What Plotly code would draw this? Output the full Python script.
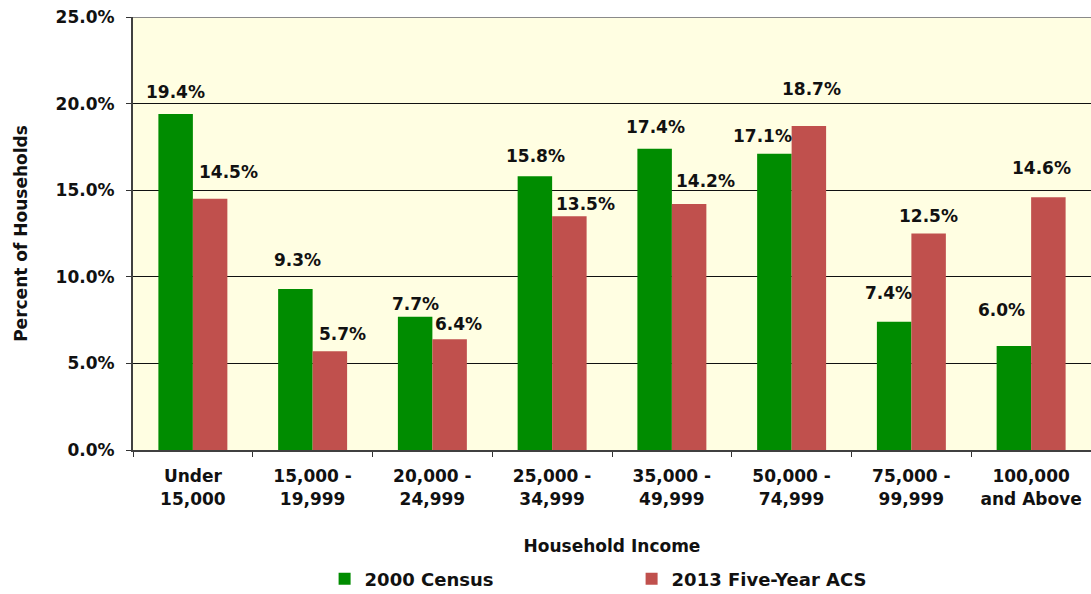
import plotly.graph_objects as go

categories = ["Under<br>15,000", "15,000 -<br>19,999", "20,000 -<br>24,999", "25,000 -<br>34,999",
              "35,000 -<br>49,999", "50,000 -<br>74,999", "75,000 -<br>99,999", "100,000<br>and Above"]
census_2000 = [19.4, 9.3, 7.7, 15.8, 17.4, 17.1, 7.4, 6.0]
acs_2013 = [14.5, 5.7, 6.4, 13.5, 14.2, 18.7, 12.5, 14.6]
series_names = ["2000 Census", "2013 Five-Year ACS"]
y_ticks = [0, 5, 10, 15, 20, 25]

# label placement tweaks (pixel shifts relative to each bar's top centre)
census_label_shift = [(0, 22), (2, 29), (0, 13), (1, 20), (1, 22), (-12, 18), (-6, 29), (-12, 36)]
acs_label_shift = [(18, 27), (13, 17), (9, 15), (16, 12), (16, 23), (3, 37), (0, 18), (-7, 29)]

GREEN = "#008C00"
RED = "#C0504D"
FONT = "DejaVu Sans"
TEXT = "#111111"

fig = go.Figure()
fig.add_trace(go.Bar(name=series_names[0], x=categories, y=census_2000, marker_color=GREEN,
                     marker_line_width=0))
fig.add_trace(go.Bar(name=series_names[1], x=categories, y=acs_2013, marker_color=RED,
                     marker_line_width=0))

half_bar = 17.25
annotations = []
for vals, shifts, side in ((census_2000, census_label_shift, -1), (acs_2013, acs_label_shift, 1)):
    for cat, v, (dx, dy) in zip(categories, vals, shifts):
        annotations.append(dict(
            x=cat, y=v, xref="x", yref="y", text=f"{v:.1f}%", showarrow=False,
            xanchor="center", yanchor="middle",
            xshift=side * half_bar + dx, yshift=dy,
            font=dict(family=FONT, size=17, color=TEXT, weight="bold"),
        ))

fig.update_layout(
    width=1091, height=594,
    margin=dict(l=133, r=0, t=17, b=144, autoexpand=False),
    paper_bgcolor="white",
    plot_bgcolor="#FFFEE2",
    barmode="group",
    bargap=0.424,
    bargroupgap=0,
    font=dict(family=FONT, size=17, color=TEXT),
    annotations=annotations,
    showlegend=True,
    legend=dict(orientation="h", x=0.2, xanchor="left", y=-0.298, yanchor="middle",
                font=dict(family=FONT, size=18, color=TEXT, weight="bold"),
                entrywidth=262, entrywidthmode="pixels", bgcolor="rgba(0,0,0,0)"),
    shapes=[dict(type="line", xref="paper", yref="y", x0=0, x1=1, y0=25, y1=25,
                 line=dict(color="#8a8a8a", width=2))],
)

fig.update_xaxes(
    type="category", tickson="boundaries", ticks="outside", ticklen=5, tickwidth=1,
    tickcolor="#333333", showline=True, linecolor="#404040", linewidth=2,
    showgrid=False, ticklabelstandoff=10, automargin=False,
    tickfont=dict(family=FONT, size=17, color=TEXT, weight="bold"),
    title=dict(text="Household Income", standoff=33,
               font=dict(family=FONT, size=17, color=TEXT, weight="bold")),
)
fig.update_yaxes(
    range=[0, 25], tickvals=y_ticks, ticktext=[f"{t:.1f}%" for t in y_ticks],
    ticks="outside", ticklen=5, tickwidth=1, tickcolor="#333333",
    showline=True, linecolor="#404040", linewidth=2,
    showgrid=True, gridcolor="#111111", gridwidth=1, zeroline=False,
    ticklabelstandoff=8, automargin=False,
    tickfont=dict(family=FONT, size=17, color=TEXT, weight="bold"),
    title=dict(text="Percent of Households", standoff=24,
               font=dict(family=FONT, size=17, color=TEXT, weight="bold")),
)

fig.write_html("out.html")
